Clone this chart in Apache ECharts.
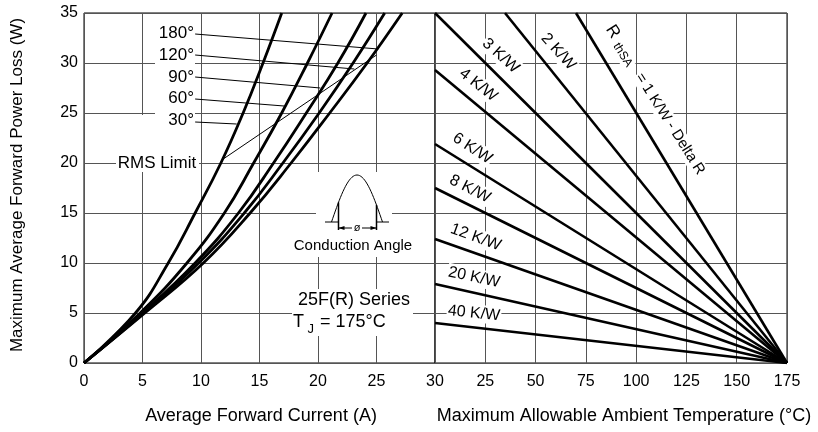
<!DOCTYPE html>
<html><head><meta charset="utf-8">
<script src="https://cdn.jsdelivr.net/npm/echarts@6/dist/echarts.min.js"></script>
<style>html,body{margin:0;padding:0;background:#fff}#c{width:818px;height:432px}</style>
</head><body><div id="c"></div>
<script>
// ---- Data ----
// Left panel: conduction-angle curves, [average current (A), power loss (W)]
const angleNames = ['30°', '60°', '90°', '120°', '180°'];
const curve30  = [[0,0],[4.4,5],[7.2,10],[9.5,15],[11.7,20],[13.6,25],[15.3,30],[16.9,35]];
const curve60  = [[0,0],[4.8,5],[8.8,10],[12.0,15],[14.5,20],[16.9,25],[19.1,30],[21.2,35]];
const curve90  = [[0,0],[5.0,5],[9.5,10],[13.2,15],[16.2,20],[19.0,25],[21.7,30],[24.1,35]];
const curve120 = [[0,0],[5.1,5],[9.8,10],[13.7,15],[17.0,20],[20.1,25],[23.0,30],[25.7,35]];
const curve180 = [[0,0],[5.2,5],[10.2,10],[14.2,15],[17.7,20],[21.0,25],[24.2,30],[27.2,35]];
const rmsLimit = [[11.9,20.4],[25.0,30.8]];
// leader lines from the angle labels to their curves
const leader180 = [[9.5,32.9],[25.15,31.4]];
const leader120 = [[9.5,30.8],[23.1,29.4]];
const leader90  = [[9.5,28.6],[20.2,27.5]];
const leader60  = [[9.5,26.4],[17.1,25.7]];
const leader30  = [[9.5,24.1],[13.05,23.9]];

// Right panel: heatsink thermal resistance lines, [ambient temp (°C), power (W)]
const sinkNames  = ['1', '2', '3', '4', '6', '8', '12', '20', '40'];
const sinkStartT = [70.1, 34.8, 0, 0, 0, 0, 0, 0, 0];
const sinkStartP = [35, 35, 35, 29.3, 21.9, 17.5, 12.4, 7.9, 4.0];
const sinkEndT = 175;
const sinkEndP = 0;

// Axis ticks
const yTicks = { min: 0, max: 35, step: 5 };
const xCurrentTicks = { min: 0, max: 30, step: 5 };
const xTempTicks = { min: 0, max: 175, step: 25 };

// ---- Chart ----
const FONT = 'Liberation Sans, Arial, sans-serif';
const GRID_COLOR = '#555';
const chart = echarts.init(document.getElementById('c'), null, {renderer: 'canvas'});

const curveSeries = [curve30, curve60, curve90, curve120, curve180].map((d, i) => ({
  name: angleNames[i], type: 'line', xAxisIndex: 0, yAxisIndex: 0, data: d,
  smooth: 0.45, symbol: 'none', lineStyle: {color: '#000', width: 2.8}, z: 3
}));
const thinSeries = [rmsLimit, leader180, leader120, leader90, leader60, leader30].map(d => ({
  type: 'line', xAxisIndex: 0, yAxisIndex: 0, data: d, symbol: 'none',
  lineStyle: {color: '#000', width: 1}, z: 4
}));
const sinkSeries = sinkNames.map((n, i) => ({
  name: n + ' K/W', type: 'line', xAxisIndex: 1, yAxisIndex: 1,
  data: [[sinkStartT[i], sinkStartP[i]], [sinkEndT, sinkEndP]],
  symbol: 'none', lineStyle: {color: '#000', width: 2.6}, z: 3
}));

function txt(text, x, y, opts) {
  opts = opts || {};
  return {
    type: 'text', x: x, y: y, rotation: opts.rot || 0, z: opts.z || 10,
    style: {
      text: text, fill: '#000', font: (opts.size || 17) + 'px ' + FONT,
      align: opts.align || 'center', verticalAlign: opts.va || 'middle',
      backgroundColor: opts.bg || null, padding: opts.pad || 0
    }
  };
}
function rect(x, y, w, h) {
  return {type: 'rect', shape: {x: x, y: y, width: w, height: h}, style: {fill: '#fff'}, z: 1};
}
const deg = Math.PI / 180;

// conduction angle sketch (decoration)
const sx0 = 331.5, sx1 = 382.5, sBase = 222, sAmp = 47;
const sinePts = [];
for (let k = 0; k <= 40; k++) {
  const t = k / 40;
  sinePts.push([sx0 + (sx1 - sx0) * t, sBase - sAmp * Math.sin(Math.PI * t)]);
}
function sineY(x) { return sBase - sAmp * Math.sin(Math.PI * (x - sx0) / (sx1 - sx0)); }
const vL = 338.5, vR = 376.5;

const graphics = [
  // white boxes behind annotations
  rect(155, 18, 40, 107),
  rect(116, 115, 83, 57),
  rect(316, 172, 76, 64),
  rect(292, 236, 122, 21),
  rect(292, 289, 121, 47),
  // angle labels
  txt('180°', 194, 33, {align: 'right'}),
  txt('120°', 194, 55, {align: 'right'}),
  txt('90°', 194, 77, {align: 'right'}),
  txt('60°', 194, 98.5, {align: 'right'}),
  txt('30°', 194, 120.5, {align: 'right'}),
  txt('RMS Limit', 157, 163, {bg: '#fff'}),
  // conduction angle figure
  {type: 'polyline', shape: {points: sinePts}, style: {stroke: '#000', lineWidth: 1, fill: null}, z: 10},
  {type: 'line', shape: {x1: 325, y1: sBase, x2: vL, y2: sBase}, style: {stroke: '#000', lineWidth: 1}, z: 10},
  {type: 'line', shape: {x1: vR, y1: sBase, x2: 389, y2: sBase}, style: {stroke: '#000', lineWidth: 1}, z: 10},
  {type: 'line', shape: {x1: vL, y1: sineY(vL), x2: vL, y2: sBase + 8}, style: {stroke: '#000', lineWidth: 1.5}, z: 10},
  {type: 'line', shape: {x1: vR, y1: sineY(vR), x2: vR, y2: sBase + 8}, style: {stroke: '#000', lineWidth: 1.5}, z: 10},
  {type: 'line', shape: {x1: vL, y1: 228, x2: 352, y2: 228}, style: {stroke: '#000', lineWidth: 1}, z: 10},
  {type: 'line', shape: {x1: 362, y1: 228, x2: vR, y2: 228}, style: {stroke: '#000', lineWidth: 1}, z: 10},
  {type: 'polygon', shape: {points: [[vL, 228], [vL + 6, 226], [vL + 6, 230]]}, style: {fill: '#000'}, z: 10},
  {type: 'polygon', shape: {points: [[vR, 228], [vR - 6, 226], [vR - 6, 230]]}, style: {fill: '#000'}, z: 10},
  txt('ø', 357, 227.5, {size: 11}),
  txt('Conduction Angle', 353, 246, {size: 15}),
  // series / junction temp
  txt('25F(R) Series', 298, 300, {size: 18, align: 'left'}),
  txt('T', 293, 322, {size: 18, align: 'left'}),
  txt('J', 307.5, 329, {size: 13, align: 'left'}),
  txt('= 175°C', 320, 322, {size: 18, align: 'left'}),
  // heatsink labels
  txt('3 K/W', 500.7, 55.7, {size: 16, rot: -42 * deg, bg: '#fff', pad: 1}),
  txt('2 K/W', 558.3, 51.7, {size: 16, rot: -48 * deg, bg: '#fff', pad: 1}),
  txt('4 K/W', 478.3, 85, {size: 16, rot: -38 * deg, bg: '#fff', pad: 1}),
  txt('6 K/W', 472.3, 148.3, {size: 16, rot: -33 * deg, bg: '#fff', pad: 1}),
  txt('8 K/W', 470, 189, {size: 16, rot: -27 * deg, bg: '#fff', pad: 1}),
  txt('12 K/W', 475.7, 237.3, {size: 16, rot: -20 * deg, bg: '#fff', pad: 1}),
  txt('20 K/W', 474, 277.3, {size: 16, rot: -12 * deg, bg: '#fff', pad: 1}),
  txt('40 K/W', 474, 313.3, {size: 16, rot: -6 * deg, bg: '#fff', pad: 1}),
  {type: 'group', x: 612.7, y: 31.7, rotation: -57.6 * deg, z: 10, children: [
    txt('R', 0, 0, {size: 17, bg: '#fff', pad: 1}),
    txt('thSA', 25, 4, {size: 12, bg: '#fff', pad: 1}),
    txt('= 1 K/W - Delta R', 108.6, 1, {size: 15, bg: '#fff', pad: 1})
  ]},
  // axis titles
  txt('Maximum Average Forward Power Loss (W)', 17, 185, {size: 17, rot: Math.PI / 2}),
  txt('Average Forward Current (A)', 261, 416, {size: 18}),
  txt('Maximum Allowable Ambient Temperature (°C)', 624, 416, {size: 18})
];

const axisLabelStyle = {color: '#000', fontSize: 16, fontFamily: FONT};
const splitLine = {show: true, lineStyle: {color: GRID_COLOR, width: 1}};

chart.setOption({
  animation: false,
  backgroundColor: '#fff',
  grid: [
    {left: 84, top: 13, width: 351, height: 350, show: true, borderColor: '#000', borderWidth: 1, backgroundColor: 'transparent'},
    {left: 435, top: 13, width: 352, height: 350, show: true, borderColor: '#000', borderWidth: 1, backgroundColor: 'transparent'}
  ],
  xAxis: [
    {type: 'value', gridIndex: 0, min: xCurrentTicks.min, max: xCurrentTicks.max, interval: xCurrentTicks.step,
     axisLine: {show: false}, axisTick: {show: false}, splitLine: splitLine,
     axisLabel: Object.assign({margin: 11}, axisLabelStyle)},
    {type: 'value', gridIndex: 1, min: xTempTicks.min, max: xTempTicks.max, interval: xTempTicks.step,
     axisLine: {show: false}, axisTick: {show: false}, splitLine: splitLine,
     axisLabel: Object.assign({margin: 11, formatter: v => (v === xTempTicks.min ? '' : String(v))}, axisLabelStyle)}
  ],
  yAxis: [
    {type: 'value', gridIndex: 0, min: yTicks.min, max: yTicks.max, interval: yTicks.step,
     axisLine: {show: false}, axisTick: {show: false}, splitLine: splitLine,
     axisLabel: Object.assign({margin: 6}, axisLabelStyle)},
    {type: 'value', gridIndex: 1, min: yTicks.min, max: yTicks.max, interval: yTicks.step,
     axisLine: {show: false}, axisTick: {show: false}, splitLine: splitLine,
     axisLabel: {show: false}}
  ],
  series: curveSeries.concat(thinSeries, sinkSeries),
  graphic: {elements: graphics}
});
</script>
</body></html>
